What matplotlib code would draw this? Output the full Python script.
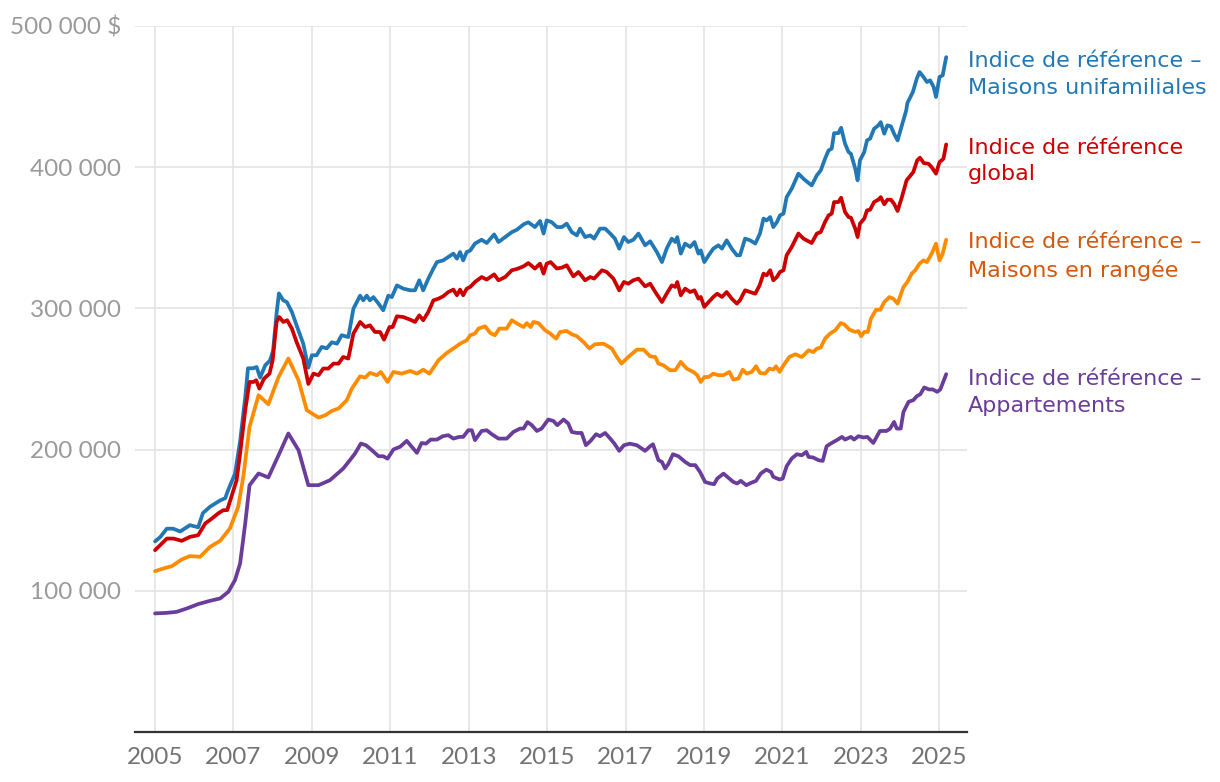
#!/usr/bin/python3
"""
Indices de référence des prix des propriétés, 2005 à 2025.
"""
import matplotlib
matplotlib.use('Agg')
import matplotlib.pyplot as plt
from matplotlib.ticker import FuncFormatter

# Maisons unifamiliales (dates en années décimales, valeurs en milliers de $)
uni_dates = [2005.00, 2005.13, 2005.30, 2005.46, 2005.64, 2005.89, 2006.10, 2006.22, 2006.40, 2006.66,
             2006.79, 2006.86, 2007.04, 2007.17, 2007.30, 2007.37, 2007.50, 2007.59, 2007.68, 2007.81,
             2007.93, 2008.01, 2008.10, 2008.16, 2008.27, 2008.36, 2008.49, 2008.61, 2008.78, 2008.91,
             2009.00, 2009.12, 2009.25, 2009.38, 2009.51, 2009.64, 2009.76, 2009.93, 2010.06, 2010.23,
             2010.31, 2010.40, 2010.48, 2010.57, 2010.70, 2010.82, 2010.95, 2011.04, 2011.17, 2011.33,
             2011.51, 2011.63, 2011.74, 2011.84, 2011.97, 2012.10, 2012.19, 2012.35, 2012.48, 2012.61,
             2012.70, 2012.78, 2012.86, 2012.95, 2013.04, 2013.16, 2013.33, 2013.46, 2013.65, 2013.76,
             2013.93, 2014.10, 2014.23, 2014.40, 2014.52, 2014.69, 2014.82, 2014.91, 2014.99, 2015.12,
             2015.25, 2015.38, 2015.50, 2015.63, 2015.76, 2015.84, 2015.97, 2016.10, 2016.20, 2016.35,
             2016.48, 2016.61, 2016.73, 2016.84, 2016.96, 2017.07, 2017.20, 2017.33, 2017.50, 2017.63,
             2017.80, 2017.93, 2018.05, 2018.18, 2018.27, 2018.32, 2018.41, 2018.52, 2018.65, 2018.76,
             2018.86, 2018.92, 2019.01, 2019.12, 2019.24, 2019.37, 2019.46, 2019.58, 2019.71, 2019.84,
             2019.92, 2020.05, 2020.18, 2020.31, 2020.43, 2020.52, 2020.60, 2020.69, 2020.77, 2020.86,
             2020.94, 2021.03, 2021.11, 2021.24, 2021.41, 2021.54, 2021.67, 2021.75, 2021.88, 2021.98,
             2022.09, 2022.18, 2022.26, 2022.32, 2022.43, 2022.50, 2022.60, 2022.69, 2022.75, 2022.86,
             2022.92, 2022.98, 2023.09, 2023.16, 2023.24, 2023.34, 2023.45, 2023.51, 2023.60, 2023.68,
             2023.77, 2023.85, 2023.94, 2024.05, 2024.16, 2024.19, 2024.33, 2024.43, 2024.50, 2024.60,
             2024.69, 2024.77, 2024.86, 2024.92, 2025.01, 2025.09, 2025.18]
uni_values = [135.0, 138.0, 144.0, 144.0, 142.0, 146.5, 145.0, 155.0, 159.5, 164.0,
              165.6, 171.0, 183.0, 206.0, 237.0, 257.6, 257.6, 258.5, 251.0, 259.7,
              263.0, 270.0, 296.5, 310.6, 305.7, 304.5, 297.5, 288.0, 275.0, 258.0,
              266.8, 266.8, 272.7, 271.7, 276.0, 275.0, 281.0, 279.7, 299.8, 309.0,
              305.7, 309.0, 305.7, 308.0, 303.4, 298.7, 309.0, 308.0, 316.3, 314.0,
              312.8, 312.8, 319.9, 312.8, 321.0, 328.2, 332.8, 334.0, 336.4, 338.8,
              335.2, 339.9, 334.0, 339.9, 341.0, 345.9, 348.6, 346.3, 352.4, 347.0,
              350.5, 354.0, 355.7, 359.5, 361.0, 357.6, 361.9, 353.0, 362.3, 361.0,
              357.6, 357.6, 360.0, 354.0, 351.7, 356.5, 350.5, 351.7, 349.4, 356.5,
              356.5, 353.0, 349.4, 342.3, 350.5, 347.0, 348.6, 353.0, 344.7, 347.5,
              339.9, 332.8, 342.3, 349.4, 347.0, 350.5, 338.8, 345.9, 343.5, 347.0,
              338.8, 341.1, 332.8, 337.6, 342.3, 344.7, 342.3, 348.2, 342.3, 337.6,
              337.6, 349.4, 348.2, 345.9, 353.0, 363.6, 362.3, 364.7, 357.6, 361.0,
              365.9, 367.1, 378.8, 384.8, 395.4, 391.8, 388.8, 387.1, 394.2, 397.7,
              406.0, 411.9, 413.1, 424.1, 424.1, 427.9, 416.6, 410.7, 409.5, 398.9,
              390.7, 404.8, 410.7, 419.0, 420.2, 427.2, 429.6, 431.9, 423.7, 429.6,
              428.9, 423.7, 419.0, 429.6, 440.2, 445.4, 453.2, 462.7, 467.4, 463.9,
              460.3, 461.5, 456.8, 449.7, 463.9, 465.0, 477.9]

# Indice global
glob_dates = [2005.00, 2005.13, 2005.30, 2005.47, 2005.68, 2005.89, 2006.10, 2006.28, 2006.45, 2006.61,
              2006.74, 2006.84, 2007.08, 2007.17, 2007.30, 2007.41, 2007.51, 2007.58, 2007.66, 2007.78,
              2007.92, 2008.00, 2008.10, 2008.17, 2008.27, 2008.37, 2008.49, 2008.61, 2008.78, 2008.91,
              2009.04, 2009.17, 2009.29, 2009.42, 2009.55, 2009.68, 2009.80, 2009.93, 2010.06, 2010.23,
              2010.36, 2010.48, 2010.61, 2010.74, 2010.84, 2010.98, 2011.06, 2011.17, 2011.33, 2011.51,
              2011.63, 2011.74, 2011.84, 2011.97, 2012.10, 2012.23, 2012.35, 2012.48, 2012.61, 2012.70,
              2012.78, 2012.86, 2012.95, 2013.04, 2013.16, 2013.33, 2013.46, 2013.65, 2013.76, 2013.93,
              2014.10, 2014.23, 2014.40, 2014.52, 2014.69, 2014.82, 2014.91, 2014.99, 2015.09, 2015.25,
              2015.38, 2015.50, 2015.67, 2015.80, 2015.97, 2016.10, 2016.20, 2016.40, 2016.52, 2016.69,
              2016.84, 2016.96, 2017.07, 2017.20, 2017.33, 2017.50, 2017.63, 2017.76, 2017.93, 2018.05,
              2018.18, 2018.27, 2018.32, 2018.41, 2018.52, 2018.65, 2018.76, 2018.86, 2018.92, 2019.01,
              2019.12, 2019.24, 2019.34, 2019.46, 2019.58, 2019.71, 2019.84, 2019.92, 2020.05, 2020.18,
              2020.31, 2020.42, 2020.52, 2020.60, 2020.69, 2020.77, 2020.86, 2020.94, 2021.03, 2021.11,
              2021.24, 2021.41, 2021.54, 2021.67, 2021.75, 2021.88, 2021.98, 2022.09, 2022.18, 2022.26,
              2022.32, 2022.43, 2022.50, 2022.60, 2022.69, 2022.75, 2022.86, 2022.92, 2022.98, 2023.09,
              2023.16, 2023.24, 2023.34, 2023.45, 2023.51, 2023.60, 2023.68, 2023.77, 2023.85, 2023.94,
              2024.05, 2024.17, 2024.34, 2024.44, 2024.51, 2024.61, 2024.73, 2024.81, 2024.92, 2025.01,
              2025.11, 2025.18]
glob_values = [128.8, 132.3, 137.0, 137.0, 135.4, 138.2, 139.4, 147.7, 151.2, 154.8,
               157.1, 157.1, 178.3, 197.2, 227.9, 247.9, 247.9, 249.1, 243.2, 250.3,
               253.8, 263.3, 290.4, 293.9, 290.4, 291.6, 285.7, 276.2, 264.5, 246.5,
               253.8, 252.7, 257.4, 257.4, 260.9, 260.9, 265.6, 264.5, 282.2, 290.4,
               286.8, 288.0, 283.3, 283.3, 277.9, 286.8, 286.8, 294.4, 293.9, 292.0,
               290.4, 295.1, 291.6, 297.5, 305.7, 306.9, 308.6, 311.6, 313.3, 309.3,
               313.3, 309.3, 314.0, 315.2, 318.7, 322.2, 320.4, 324.1, 319.9, 322.2,
               327.0, 327.9, 329.8, 332.1, 328.2, 331.7, 324.6, 331.7, 332.8, 328.2,
               328.9, 330.5, 322.7, 325.8, 319.9, 322.2, 321.1, 327.0, 325.8, 321.1,
               312.8, 318.7, 317.5, 319.9, 321.1, 315.6, 317.5, 311.6, 304.5, 310.4,
               316.3, 315.2, 318.7, 309.3, 314.0, 311.6, 312.8, 306.9, 308.1, 301.0,
               304.5, 308.1, 310.4, 308.1, 311.6, 306.9, 303.4, 305.7, 312.8, 311.6,
               310.4, 316.3, 324.6, 323.4, 327.0, 319.9, 322.2, 325.8, 327.0, 337.6,
               343.5, 353.0, 349.4, 347.5, 346.3, 353.0, 354.1, 361.2, 365.9, 367.1,
               375.3, 375.3, 378.4, 368.2, 364.7, 364.2, 356.5, 350.5, 360.0, 363.6,
               369.4, 369.9, 375.3, 377.0, 378.8, 373.7, 377.0, 377.0, 374.1, 369.0,
               378.8, 390.7, 396.5, 404.8, 406.7, 402.9, 402.4, 400.0, 395.4, 403.6,
               406.0, 416.1]

# Maisons en rangée
row_dates = [2005.00, 2005.21, 2005.43, 2005.68, 2005.89, 2006.15, 2006.40, 2006.66, 2006.91, 2007.12,
             2007.25, 2007.41, 2007.64, 2007.89, 2008.15, 2008.40, 2008.66, 2008.87, 2009.17, 2009.34,
             2009.51, 2009.68, 2009.89, 2010.02, 2010.23, 2010.36, 2010.48, 2010.66, 2010.76, 2010.93,
             2011.08, 2011.29, 2011.51, 2011.68, 2011.84, 2012.00, 2012.23, 2012.44, 2012.61, 2012.78,
             2012.95, 2013.04, 2013.16, 2013.25, 2013.42, 2013.55, 2013.67, 2013.78, 2013.97, 2014.10,
             2014.27, 2014.40, 2014.48, 2014.58, 2014.65, 2014.78, 2014.95, 2015.08, 2015.23, 2015.33,
             2015.50, 2015.63, 2015.76, 2015.93, 2016.08, 2016.22, 2016.44, 2016.65, 2016.78, 2016.90,
             2017.07, 2017.29, 2017.46, 2017.63, 2017.76, 2017.84, 2017.97, 2018.14, 2018.27, 2018.41,
             2018.56, 2018.73, 2018.83, 2018.92, 2019.01, 2019.12, 2019.24, 2019.37, 2019.50, 2019.65,
             2019.75, 2019.88, 2019.99, 2020.09, 2020.22, 2020.33, 2020.43, 2020.56, 2020.67, 2020.77,
             2020.84, 2020.93, 2021.03, 2021.18, 2021.33, 2021.50, 2021.67, 2021.79, 2021.88, 2021.98,
             2022.09, 2022.22, 2022.35, 2022.49, 2022.58, 2022.71, 2022.86, 2022.94, 2023.01, 2023.09,
             2023.18, 2023.26, 2023.39, 2023.50, 2023.60, 2023.73, 2023.83, 2023.94, 2024.09, 2024.19,
             2024.30, 2024.39, 2024.50, 2024.60, 2024.69, 2024.81, 2024.92, 2025.01, 2025.09, 2025.18]
row_values = [113.9, 115.8, 117.5, 122.2, 124.6, 124.1, 131.1, 135.4, 144.2, 159.4,
              180.7, 216.1, 238.5, 232.1, 251.4, 264.5, 249.1, 227.9, 222.7, 224.3,
              227.4, 229.1, 235.0, 243.2, 251.9, 251.0, 254.3, 252.7, 255.0, 247.9,
              255.0, 253.8, 255.7, 253.8, 256.6, 253.8, 263.3, 268.4, 271.6, 275.0,
              277.4, 281.0, 282.2, 285.7, 287.3, 282.6, 281.0, 285.7, 285.7, 291.6,
              288.7, 286.8, 289.6, 286.8, 290.4, 289.6, 284.5, 282.2, 278.6, 283.3,
              284.0, 281.7, 280.3, 276.2, 271.6, 274.6, 275.0, 271.6, 265.6, 260.9,
              265.6, 270.8, 270.8, 266.0, 265.6, 260.9, 259.7, 256.2, 256.2, 262.1,
              257.4, 255.0, 252.7, 247.9, 251.4, 251.4, 253.8, 252.7, 252.7, 255.0,
              249.6, 250.3, 256.6, 253.8, 255.0, 259.0, 254.3, 253.8, 257.4, 256.6,
              259.0, 255.0, 259.7, 265.6, 267.5, 265.6, 270.3, 269.1, 271.5, 272.3,
              278.6, 282.2, 284.5, 289.6, 288.7, 285.0, 283.3, 284.0, 280.3, 283.3,
              283.3, 292.7, 299.0, 299.0, 304.5, 308.0, 306.9, 303.4, 315.2, 318.7,
              324.6, 327.0, 331.7, 334.0, 332.8, 338.8, 345.9, 334.0, 338.8, 348.6]

# Appartements
apt_dates = [2005.00, 2005.30, 2005.55, 2005.81, 2006.10, 2006.40, 2006.66, 2006.87, 2007.04, 2007.17,
             2007.30, 2007.41, 2007.64, 2007.89, 2008.15, 2008.40, 2008.66, 2008.91, 2009.17, 2009.46,
             2009.80, 2009.97, 2010.10, 2010.25, 2010.38, 2010.53, 2010.70, 2010.82, 2010.93, 2011.08,
             2011.25, 2011.42, 2011.55, 2011.68, 2011.80, 2011.91, 2012.03, 2012.19, 2012.34, 2012.48,
             2012.61, 2012.76, 2012.86, 2012.99, 2013.08, 2013.16, 2013.33, 2013.46, 2013.59, 2013.76,
             2013.97, 2014.14, 2014.31, 2014.40, 2014.50, 2014.61, 2014.74, 2014.86, 2015.03, 2015.16,
             2015.26, 2015.42, 2015.54, 2015.63, 2015.76, 2015.88, 2015.99, 2016.11, 2016.25, 2016.35,
             2016.48, 2016.61, 2016.71, 2016.84, 2016.96, 2017.11, 2017.29, 2017.50, 2017.63, 2017.70,
             2017.84, 2017.93, 2018.01, 2018.09, 2018.21, 2018.35, 2018.52, 2018.65, 2018.78, 2018.90,
             2019.03, 2019.16, 2019.26, 2019.34, 2019.50, 2019.62, 2019.75, 2019.85, 2019.94, 2020.08,
             2020.20, 2020.33, 2020.45, 2020.59, 2020.71, 2020.77, 2020.93, 2021.01, 2021.11, 2021.24,
             2021.37, 2021.50, 2021.61, 2021.67, 2021.79, 2021.92, 2022.03, 2022.13, 2022.26, 2022.39,
             2022.52, 2022.60, 2022.75, 2022.83, 2022.94, 2023.07, 2023.17, 2023.32, 2023.49, 2023.66,
             2023.75, 2023.85, 2023.92, 2024.02, 2024.09, 2024.22, 2024.34, 2024.43, 2024.52, 2024.62,
             2024.74, 2024.84, 2024.95, 2025.03, 2025.18]
apt_values = [84.0, 84.4, 85.1, 87.5, 90.6, 92.9, 94.6, 99.3, 107.6, 119.4,
              147.7, 174.8, 183.1, 180.3, 196.0, 211.4, 199.6, 174.8, 174.8, 178.3,
              186.6, 192.5, 197.2, 204.3, 203.1, 199.6, 195.3, 195.3, 193.6, 200.1,
              202.0, 206.2, 202.0, 197.7, 204.7, 204.2, 207.1, 207.1, 209.5, 210.2,
              207.8, 209.0, 209.0, 213.7, 213.7, 206.7, 213.2, 213.7, 210.9, 207.8,
              207.8, 212.5, 214.9, 214.9, 219.5, 217.3, 213.2, 214.9, 221.3, 220.3,
              217.3, 221.3, 218.5, 212.5, 211.8, 211.8, 203.1, 206.2, 210.9, 209.5,
              211.8, 207.8, 204.5, 199.1, 203.1, 204.2, 203.1, 199.1, 202.4, 203.8,
              192.5, 191.3, 186.6, 189.7, 196.7, 195.3, 191.3, 189.0, 189.0, 184.2,
              177.1, 176.0, 175.5, 179.5, 183.0, 180.2, 177.1, 176.0, 177.9, 174.8,
              176.4, 177.9, 183.0, 185.8, 184.2, 180.7, 178.8, 179.5, 188.2, 193.7,
              196.7, 196.0, 198.4, 194.8, 194.4, 192.5, 192.0, 202.4, 204.7, 206.7,
              209.0, 207.1, 209.0, 207.1, 209.5, 208.6, 209.0, 204.7, 213.2, 213.2,
              214.9, 219.6, 214.9, 214.9, 226.7, 233.8, 235.0, 237.8, 239.2, 244.0,
              242.6, 242.6, 240.9, 242.6, 253.4]

series_labels = ['Indice de référence –\nMaisons unifamiliales',
                 'Indice de référence\nglobal',
                 'Indice de référence –\nMaisons en rangée',
                 'Indice de référence –\nAppartements']
line_colors = ['#2178b4', '#cc0000', '#ff8c00', '#6a3d9a']
label_colors = ['#2178b4', '#cc0000', '#d4580a', '#6a3d9a']
label_y = [0.905, 0.794, 0.672, 0.498]

x_ticks = list(range(2005, 2026, 2))
y_ticks = [100000, 200000, 300000, 400000, 500000]


def fmt_y(v, pos):
    # espace comme séparateur de milliers, "$" seulement en haut
    txt = '{:,.0f}'.format(v).replace(',', ' ')
    if v == 500000:
        txt += ' $'
    return txt


fig = plt.figure(figsize=(12.2, 7.82), dpi=100)
ax = fig.add_axes([0.1107, 0.0639, 0.6819, 0.9029])

all_series = [(uni_dates, uni_values), (glob_dates, glob_values),
              (row_dates, row_values), (apt_dates, apt_values)]
for (dates, values), color in zip(all_series, line_colors):
    ax.plot(dates, [v * 1000 for v in values], color=color, linewidth=2.7,
            solid_joinstyle='round', solid_capstyle='round', zorder=3)

ax.set_xlim(2004.49, 2025.71)
ax.set_ylim(0, 500000)
ax.set_xticks(x_ticks)
ax.set_yticks(y_ticks)
ax.yaxis.set_major_formatter(FuncFormatter(fmt_y))

ax.grid(True, color='#e4e4e4', linewidth=1.2, zorder=0)
for side in ['top', 'right', 'left']:
    ax.spines[side].set_visible(False)
ax.spines['bottom'].set_color('#333333')
ax.spines['bottom'].set_linewidth(1.6)
ax.tick_params(axis='both', length=0)
ax.tick_params(axis='y', pad=10, labelsize=17.5, labelcolor='#9a9a9a')
ax.tick_params(axis='x', pad=11, labelsize=17.5, labelcolor='#737373')
for lab in ax.get_xticklabels() + ax.get_yticklabels():
    lab.set_fontfamily('Lato')

# étiquettes des séries à droite
for text, color, y in zip(series_labels, label_colors, label_y):
    fig.text(0.7934, y, text, color=color, fontsize=16, family='DejaVu Sans',
             va='center', ha='left', linespacing=1.42)

fig.savefig('out.png', dpi=100)
